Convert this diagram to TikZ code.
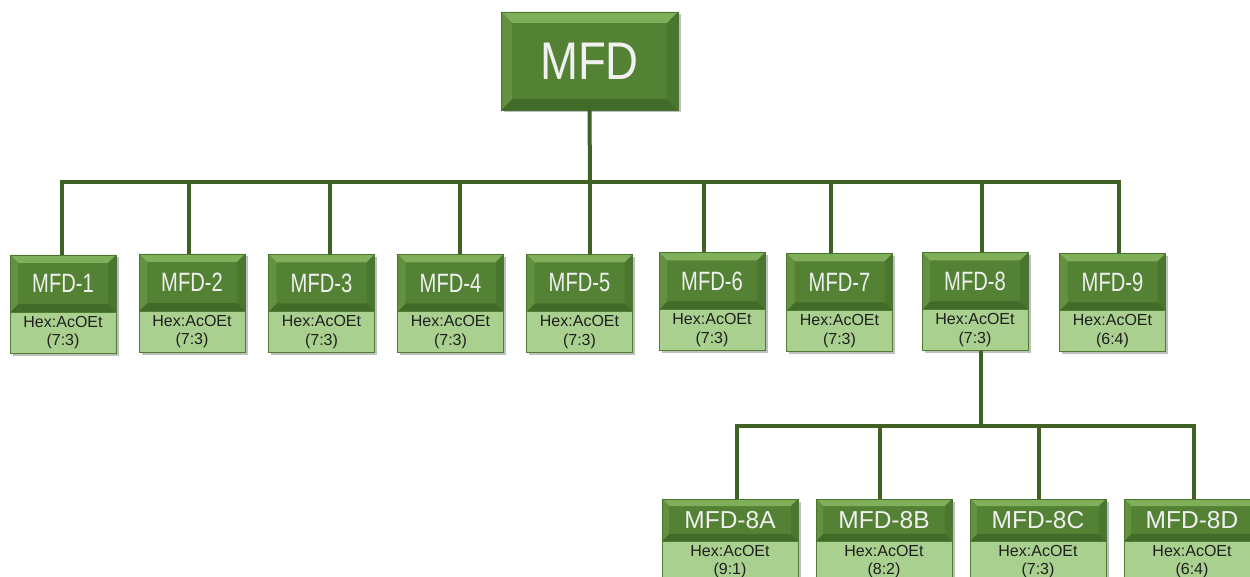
\documentclass[tikz,border=0pt]{standalone}
\usepackage{fontspec}
\setmainfont{Liberation Sans}
\newfontfamily\narrowfont[FakeStretch=0.76]{Liberation Sans}
\newfontfamily\rootfont[FakeStretch=0.86]{Liberation Sans}
\usetikzlibrary{shadows}
\definecolor{facec}{HTML}{548235}
\definecolor{bevtopc}{HTML}{80AF59}
\definecolor{bevleftc}{HTML}{62923F}
\definecolor{bevrightc}{HTML}{4A772F}
\definecolor{bevbotc}{HTML}{426A29}
\definecolor{edgec}{HTML}{4A7530}
\definecolor{lightc}{HTML}{A9D08E}
\definecolor{lightedge}{HTML}{4F7D31}
\definecolor{connc}{HTML}{3F6224}
\tikzset{
  bevel/.style={path picture={
    \path (path picture bounding box.north west) coordinate (@nw)
          (path picture bounding box.north east) coordinate (@ne)
          (path picture bounding box.south west) coordinate (@sw)
          (path picture bounding box.south east) coordinate (@se);
    \fill[bevtopc] (@nw) -- (@ne) -- ([xshift=-#1,yshift=-#1]@ne) -- ([xshift=#1,yshift=-#1]@nw) -- cycle;
    \fill[bevbotc] (@sw) -- (@se) -- ([xshift=-#1,yshift=#1]@se) -- ([xshift=#1,yshift=#1]@sw) -- cycle;
    \fill[bevleftc] (@nw) -- ([xshift=#1,yshift=-#1]@nw) -- ([xshift=#1,yshift=#1]@sw) -- (@sw) -- cycle;
    \fill[bevrightc] (@ne) -- ([xshift=-#1,yshift=-#1]@ne) -- ([xshift=-#1,yshift=#1]@se) -- (@se) -- cycle;
  }},
  shad/.style={drop shadow={shadow xshift=2.5pt, shadow yshift=-2.5pt, opacity=0.25, fill=black}},
  darkbox/.style={rectangle, inner sep=0pt, outer sep=0pt, fill=facec, draw=edgec, line width=0.6pt,
    text=white!94!black, shad},
  rootbox/.style={darkbox, bevel=11pt, minimum width=177pt, minimum height=98pt,
    font=\rootfont\fontsize{53}{56}\selectfont},
  lvbox/.style={darkbox, bevel=8pt, minimum width=106pt, minimum height=57pt,
    font=\narrowfont\fontsize{26.5}{28}\selectfont},
  subbox/.style={darkbox, bevel=7pt, minimum width=136pt, minimum height=42pt,
    font=\fontsize{24.5}{27}\selectfont},
  hexbox/.style={rectangle, inner sep=0pt, outer sep=0pt, fill=lightc, draw=lightedge, line width=0.8pt,
    minimum height=41pt, anchor=north, align=center, text=black!88,
    font=\fontsize{16}{18.5}\selectfont, shad},
  conn/.style={draw=connc, line width=4pt}
}
\begin{document}
\begin{tikzpicture}[x=1pt,y=-1pt]
\useasboundingbox (0,0) rectangle (1250,577);
% root
\node[rootbox] (root) at (589.5,61) {MFD};
% level 1
\node[lvbox] (m1) at (63,283.5) {MFD-1};
\node[lvbox] (m2) at (192,282.5) {MFD-2};
\node[lvbox] (m3) at (321.5,283) {MFD-3};
\node[lvbox] (m4) at (450.5,283) {MFD-4};
\node[lvbox] (m5) at (579.5,283) {MFD-5};
\node[lvbox] (m6) at (712,281) {MFD-6};
\node[lvbox] (m7) at (839.5,282) {MFD-7};
\node[lvbox] (m8) at (975,281) {MFD-8};
\node[lvbox] (m9) at (1112.5,282) {MFD-9};
\foreach \i/\r in {1/7:3,2/7:3,3/7:3,4/7:3,5/7:3,6/7:3,7/7:3,8/7:3,9/6:4}
  \node[hexbox, minimum width=106pt] (h\i) at (m\i.south) {Hex:AcOEt\\(\r)};
% level 2
\node[subbox] (s1) at (730,520) {MFD-8A};
\node[subbox] (s2) at (884,520) {MFD-8B};
\node[subbox] (s3) at (1038,520) {MFD-8C};
\node[subbox] (s4) at (1192,520) {MFD-8D};
\foreach \i/\r in {1/9:1,2/8:2,3/7:3,4/6:4}
  \node[hexbox, minimum width=136pt] (t\i) at (s\i.south) {Hex:AcOEt\\(\r)};
% connectors level 1
\coordinate (bus1) at (590,182);
\draw[conn] (root.south) -- (bus1);
\draw[conn] ([xshift=-1pt]m1.north) |- (bus1) -| ([xshift=6.5pt]m9.north);
\foreach \n/\d in {m2/-3pt,m3/8.5pt,m4/9.5pt,m5/10.5pt,m6/-8pt,m7/-8.5pt,m8/7pt}
  \draw[conn] ([xshift=\d]\n.north) -- ([xshift=\d]\n.north |- bus1);
% connectors level 2
\coordinate (bus2) at (981,426);
\draw[conn] ([xshift=6pt]h8.south) -- (bus2);
\draw[conn] ([xshift=7pt]s1.north) |- (bus2) -| ([xshift=2pt]s4.north);
\foreach \n/\d in {s2/-4pt,s3/1pt}
  \draw[conn] ([xshift=\d]\n.north) -- ([xshift=\d]\n.north |- bus2);
\end{tikzpicture}
\end{document}
